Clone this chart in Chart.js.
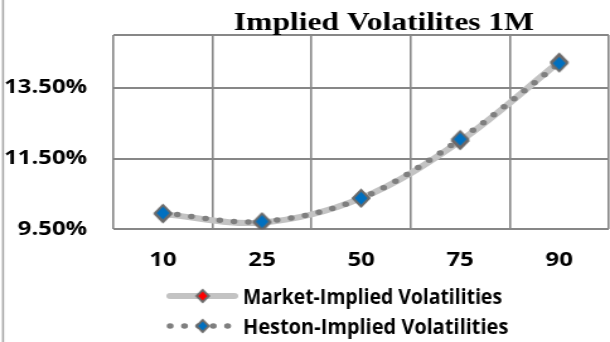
<!DOCTYPE html>
<html>
<head>
<meta charset="utf-8">
<script src="https://cdn.jsdelivr.net/npm/chart.js@4.4.1/dist/chart.umd.min.js"></script>
<style>
  html, body { margin: 0; padding: 0; background: #fff; overflow: hidden; }
  #myChart { display: block; width: 610px; height: 342px; }
</style>
</head>
<body>
<canvas id="myChart" width="484" height="342" style="width:610px;height:342px"></canvas>
<script>
var categories = ['10', '25', '50', '75', '90'];
var marketVols = [9.93, 9.69, 10.38, 12.00, 14.24];
var hestonVols = [9.96, 9.72, 10.38, 12.05, 14.20];
var yTickValues = [9.5, 11.5, 13.5, 15.0];
var yTickLabels = ['9.50%', '11.50%', '13.50%', ''];
var seriesNames = ['Market-Implied Volatilities', 'Heston-Implied Volatilities'];
var chartTitle = 'Implied Volatilites 1M';

// the reference is stretched sideways, so the canvas is drawn narrow (484px)
// and css widens it to 610px. markers are pre-squeezed so they come out square.
var textFont = '"Open Sans"';

function diamond(fill, w, h) {
    var c = document.createElement('canvas');
    c.width = Math.ceil(w + 4);
    c.height = Math.ceil(h + 4);
    var g = c.getContext('2d');
    var cx = c.width / 2, cy = c.height / 2;
    g.beginPath();
    g.moveTo(cx, cy - h / 2);
    g.lineTo(cx + w / 2, cy);
    g.lineTo(cx, cy + h / 2);
    g.lineTo(cx - w / 2, cy);
    g.closePath();
    g.fillStyle = fill;
    g.fill();
    g.lineWidth = 2;
    g.strokeStyle = '#6b6b6b';
    g.stroke();
    return c;
}

var redDiamond = diamond('#ff0000', 12.5, 16);
var blueDiamond = diamond('#0070c0', 12.5, 16);
var redSmall = diamond('#ff0000', 9.5, 12);
var blueSmall = diamond('#0070c0', 9.5, 12);

var decorations = {
    id: 'decorations',
    beforeDraw: function (chart) {
        var ctx = chart.ctx;
        ctx.save();
        ctx.strokeStyle = '#a6a6a6';
        ctx.lineWidth = 1.6;
        ctx.beginPath();
        ctx.moveTo(2.4, 0);
        ctx.lineTo(2.4, chart.height);
        ctx.stroke();
        ctx.restore();
    },
    afterDraw: function (chart) {
        var ctx = chart.ctx, area = chart.chartArea;
        ctx.save();
        ctx.fillStyle = '#000';
        ctx.font = 'bold 25px "Liberation Serif"';
        ctx.textAlign = 'center';
        ctx.textBaseline = 'alphabetic';
        ctx.fillText(chartTitle, area.left + (area.right - area.left) * 0.546, 30);

        // legend, one row per series
        var rows = [
            { ds: chart.data.datasets[0], y: 296, base: 304, width: 205.5, mark: redSmall },
            { ds: chart.data.datasets[1], y: 326, base: 334, width: 210.5, mark: blueSmall }
        ];
        rows.forEach(function (r) {
            ctx.save();
            ctx.strokeStyle = r.ds.borderColor;
            ctx.lineWidth = r.ds.borderWidth;
            ctx.lineCap = 'round';
            ctx.setLineDash(r.ds.borderDash || []);
            ctx.beginPath();
            ctx.moveTo(135, r.y);
            ctx.lineTo(186, r.y);
            ctx.stroke();
            ctx.restore();
            ctx.drawImage(r.mark, 160.8 - r.mark.width / 2, r.y - r.mark.height / 2);

            ctx.save();
            ctx.font = 'bold 20.5px ' + textFont;
            ctx.textAlign = 'left';
            ctx.textBaseline = 'alphabetic';
            var w = ctx.measureText(r.ds.label).width;
            ctx.translate(192.8, r.base);
            ctx.scale(r.width / w, 1);
            ctx.fillStyle = '#000';
            ctx.fillText(r.ds.label, 0, 0);
            ctx.restore();
        });
        ctx.restore();
    }
};

var ctx = document.getElementById('myChart').getContext('2d');

var myChart = new Chart(ctx, {
    type: 'line',
    data: {
        labels: categories,
        datasets: [{
            label: seriesNames[0],
            data: marketVols,
            order: 2,
            borderColor: '#c3c3c3',
            borderWidth: 6,
            borderCapStyle: 'round',
            tension: 0.35,
            pointStyle: redDiamond,
            pointRadius: 8
        }, {
            label: seriesNames[1],
            data: hestonVols,
            order: 1,
            borderColor: '#7f7f7f',
            borderWidth: 5.5,
            borderDash: [0, 11.4],
            borderCapStyle: 'round',
            tension: 0.35,
            pointStyle: blueDiamond,
            pointRadius: 8
        }]
    },
    options: {
        responsive: false,
        animation: false,
        layout: { autoPadding: false, padding: { top: 35, right: 1, left: 0, bottom: 0 } },
        plugins: {
            legend: { display: false },
            title: { display: false },
            tooltip: { enabled: false }
        },
        scales: {
            x: {
                offset: true,
                grid: { offset: true, color: '#878787', lineWidth: 1.6, drawTicks: false },
                border: { display: false },
                ticks: {
                    color: '#000',
                    // tall line height pushes the labels down without adding side padding
                    font: { family: textFont, weight: 'bold', size: 19, lineHeight: '63px' },
                    padding: 0,
                    maxRotation: 0
                },
                afterFit: function (s) {
                    s.height = 342 - 229.3;
                    s.paddingLeft = 0;
                    s.paddingRight = 0;
                }
            },
            y: {
                min: 9.5,
                max: 15,
                afterBuildTicks: function (s) {
                    s.ticks = yTickValues.map(function (v) { return { value: v }; });
                },
                grid: { color: '#878787', lineWidth: 2, drawTicks: false },
                border: { display: false },
                ticks: {
                    color: '#000',
                    font: { family: textFont, weight: 'bold', size: 19 },
                    padding: 20.8,
                    callback: function (v, i) { return yTickLabels[i]; }
                },
                afterFit: function (s) {
                    s.width = 90;
                    s.paddingTop = 0;
                    s.paddingBottom = 0;
                }
            }
        }
    },
    plugins: [decorations]
});
</script>
</body>
</html>
